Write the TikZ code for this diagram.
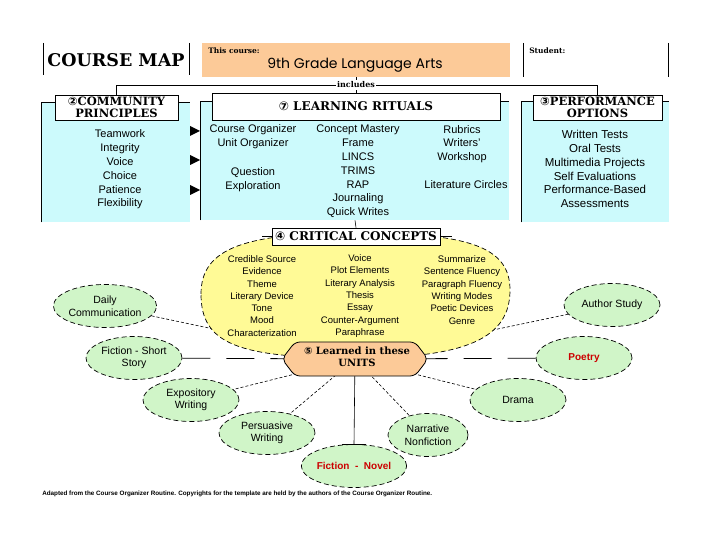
\documentclass[tikz,border=0pt]{standalone}
\usepackage{fontspec}
\setmainfont{Liberation Sans}
\newfontfamily\hdr{DejaVu Serif}
\newfontfamily\sym{DejaVu Sans}
\newfontfamily\comic{Poppins}
\usetikzlibrary{shapes.geometric}
\definecolor{panelcyan}{RGB}{204,250,252}
\definecolor{peach}{RGB}{252,202,152}
\definecolor{ccyellow}{RGB}{255,250,150}
\definecolor{satgreen}{RGB}{208,245,200}
\definecolor{redtxt}{RGB}{204,0,0}
\tikzset{
  panelbx/.style={fill=panelcyan, inner sep=0pt},
  titlebx/.style={draw, fill=white, line width=0.8pt, inner sep=0pt, align=center,
    font=\hdr\bfseries\fontsize{11.5}{12.5}\selectfont},
  lstx/.style={align=center, inner sep=0pt, font=\fontsize{11}{13.8}\selectfont},
  cclstx/.style={align=center, inner sep=0pt, font=\fontsize{9.5}{12.3}\selectfont},
  finedash/.style={dash pattern=on 3pt off 2pt, line width=0.6pt},
  longdsh/.style={dash pattern=on 28pt off 16pt, line width=0.8pt},
  outldash/.style={dash pattern=on 5pt off 3pt, line width=0.7pt},
  satnode/.style={ellipse, draw, outldash, fill=satgreen, minimum width=96pt, minimum height=43pt,
    inner sep=0pt, align=center, font=\fontsize{10.5}{12.5}\selectfont},
  redsat/.style={satnode, text=redtxt, font=\bfseries\fontsize{10}{12}\selectfont},
  tri/.style={fill=black}
}
\begin{document}
\begin{tikzpicture}[x=1pt,y=-1pt,line width=0.6pt]
\useasboundingbox (0,0) rectangle (720,540);

% ---------- header ----------
\draw (43,43) -- (43,75);
\draw (189,43) -- (189,75);
\node[font=\hdr\bfseries\fontsize{17.5}{20}\selectfont, inner sep=0pt] (cmap) at (116,60) {COURSE MAP};
\node[fill=peach, minimum width=308pt, minimum height=34pt, inner sep=0pt] (course) at (356,60) {};
\node[anchor=west, inner sep=0pt, font=\hdr\bfseries\fontsize{7.5}{9}\selectfont] (thisc) at (208,51) {This course:};
\node[inner sep=0pt, font=\comic\fontsize{14}{16}\selectfont] (ctitle) at (355,65) {9th Grade Language Arts};
\draw (523,43) -- (523,77);
\draw (668,43) -- (668,77);
\node[anchor=west, inner sep=0pt, font=\hdr\bfseries\fontsize{7.5}{9}\selectfont] (stud) at (529,51) {Student:};

% ---------- panels ----------
\node[panelbx, minimum width=148pt, minimum height=119pt] (cpp) at (116,162.5) {};
\node[panelbx, minimum width=308pt, minimum height=118pt] (lrp) at (355,161) {};
\node[panelbx, minimum width=147pt, minimum height=120pt] (pop) at (595.5,162) {};
\draw (cpp.south west) -- (cpp.north west) -- (cpp.north east);
\draw (lrp.south west) -- (lrp.north west) -- (lrp.north east);
\draw (pop.south west) -- (pop.north west) -- (pop.north east);

% arrows between panels
\fill[tri] (190,126) -- (200,131) -- (190,136) -- cycle;
\fill[tri] (190,155) -- (200,160) -- (190,165) -- cycle;
\fill[tri] (190,185) -- (200,190) -- (190,195) -- cycle;

% title boxes
\node[titlebx, minimum width=123pt, minimum height=25pt] (cpt) at (116.5,107.5) {{\sym ②}COMMUNITY\\PRINCIPLES};
\node[titlebx, minimum width=288pt, minimum height=27pt, font=\hdr\bfseries\fontsize{12}{13}\selectfont] (lrt) at (356,106.5) {{\sym ⑦} LEARNING RITUALS};
\node[titlebx, minimum width=129pt, minimum height=25pt] (pot) at (597.5,107.5) {{\sym ③}PERFORMANCE\\OPTIONS};

% includes connector
\coordinate (il) at (116.5,85);
\coordinate (ir) at (597.5,85);
\draw (cpt.north) -- (il) -- (ir) -- (pot.north);
\draw (course.south) -- (lrt.north);
\node[fill=white, inner sep=1.5pt, font=\hdr\bfseries\fontsize{8}{9}\selectfont] (incl) at (356,85) {includes};

% lists
\node[lstx] (cplist) at (120,169.5) {Teamwork\\Integrity\\Voice\\Choice\\Patience\\Flexibility};
\node[lstx] (lr1a) at (253,137) {Course Organizer\\Unit Organizer};
\node[lstx] (lr1b) at (253,179.5) {Question\\Exploration};
\node[lstx] (lr2) at (358,171.5) {Concept Mastery\\Frame\\LINCS\\TRIMS\\RAP\\Journaling\\Quick Writes};
\node[lstx] (lr3a) at (462,144) {Rubrics\\Writers'\\Workshop};
\node[lstx] (lr3b) at (466,185) {Literature Circles};
\node[lstx, font=\fontsize{11.5}{13.8}\selectfont] (polist) at (595,169) {Written Tests\\Oral Tests\\Multimedia Projects\\Self Evaluations\\Performance-Based\\Assessments};

% ---------- lower part ----------
\coordinate (units) at (355,359);
\node[satnode] (daily) at (105,306) {Daily\\Communication};
\node[satnode] (fss) at (134,358) {Fiction - Short\\Story};
\node[satnode] (expo) at (191,400) {Expository\\Writing};
\node[satnode] (pers) at (267,433) {Persuasive\\Writing};
\node[redsat] (novel) at (354,466) {Fiction\ \ -\ \ Novel};
\node[satnode, minimum width=80pt] (nnf) at (428,435) {Narrative\\Nonfiction};
\node[satnode] (drama) at (518,400) {Drama};
\node[redsat] (poetry) at (584,358) {Poetry};
\node[satnode] (author) at (612,305) {Author Study};

\draw[finedash] (units) -- (daily);
\draw[finedash] (units) -- (author);
\draw[longdsh] (fss) -- (units);
\draw[longdsh] (poetry) -- (units);
\draw[finedash] (units) -- (expo);
\draw[finedash] (units) -- (pers);
\draw[finedash] (units) -- (nnf);
\draw[finedash] (units) -- (drama);
\draw (units) -- (novel.north);
\draw (novel.north) ++(-12,0) -- ++(24,0);

% critical concepts area (boxy ellipse)
\draw[outldash, fill=ccyellow]
  (201,294) .. controls (201,248) and (245,233) .. (356,233)
  .. controls (467,233) and (510,246) .. (510,290)
  .. controls (510,338) and (467,358) .. (356,358)
  .. controls (238,358) and (201,344) .. (201,294) -- cycle;
\node[titlebx, minimum width=168pt, minimum height=17pt, font=\hdr\bfseries\fontsize{12}{13}\selectfont] (cc) at (356,236.5) {{\sym ④} CRITICAL CONCEPTS};
\draw (cc.west) -- ++(-10,0);
\draw (cc.east) -- ++(12,0);
\draw (lrp.south) -- (cc.north);

\node[cclstx] (cc1) at (262,296) {Credible Source\\Evidence\\Theme\\Literary Device\\Tone\\Mood\\Characterization};
\node[cclstx] (cc2) at (360,296) {Voice\\Plot Elements\\Literary Analysis\\Thesis\\Essay\\Counter-Argument\\Paraphrase};
\node[cclstx] (cc3) at (462,290) {Summarize\\Sentence Fluency\\Paragraph Fluency\\Writing Modes\\Poetic Devices\\Genre};

% units node
\draw[fill=peach, line width=0.8pt, rounded corners=5pt] (282,359) -- (295,342) -- (415,342) -- (428,359) -- (415,376) -- (295,376) -- cycle;
\node[align=center, inner sep=0pt, font=\hdr\bfseries\fontsize{10}{11.5}\selectfont] (unitstxt) at (357,357) {{\sym ⑤} Learned in these\\UNITS};

% footer
\node[anchor=west, inner sep=0pt, font=\bfseries\fontsize{6.3}{7}\selectfont] (foot) at (42,494) {Adapted from the Course Organizer Routine. Copyrights for the template are held by the authors of the Course Organizer Routine.};
\end{tikzpicture}
\end{document}
